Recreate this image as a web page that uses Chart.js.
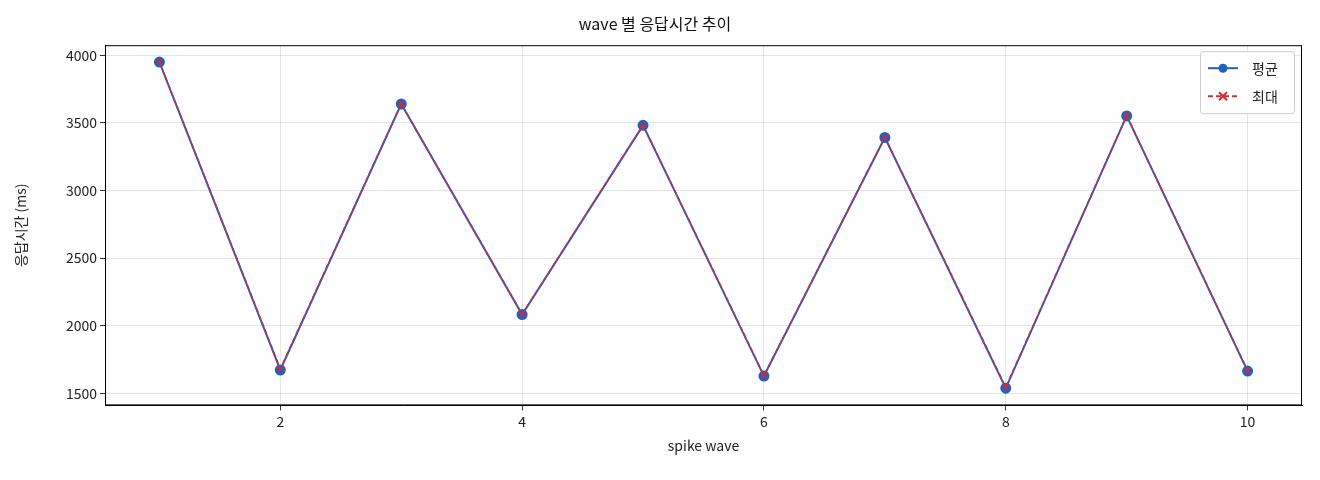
<!DOCTYPE html>
<html><head><meta charset="utf-8">
<script src="https://cdn.jsdelivr.net/npm/chart.js@4"></script>
<style>html,body{margin:0;background:#fff}#w{width:1320px;height:480px}</style>
</head><body><div id="w"><canvas id="c"></canvas></div>
<script>
const waves=[1,2,3,4,5,6,7,8,9,10];
const avgMs=[3950,1672,3640,2082,3482,1627,3392,1537,3552,1664];
const maxMs=[3952,1680,3642,2085,3484,1632,3394,1545,3554,1668];
const xTicks=[2,4,6,8,10];
const yTicks=[1500,2000,2500,3000,3500,4000];
const F='"Noto Sans CJK KR", "DejaVu Sans", sans-serif';
Chart.defaults.font.family=F;Chart.defaults.color='#222';
const legendPlugin={id:'lg',afterDraw(ch){const c=ch.ctx,a=ch.chartArea;
c.save();c.strokeStyle='#000';c.lineWidth=1;c.strokeRect(a.left+.5,a.top+.5,a.right-a.left-1,a.bottom-a.top-1);
const x=a.right-102,y=a.top+6,w=94,h=62;
c.fillStyle='rgba(255,255,255,0.9)';c.strokeStyle='#ccc';
c.beginPath();c.roundRect(x+.5,y+.5,w,h,3);c.fill();c.stroke();
const items=[['평균','#1f62c0',[],'o'],['최대','#d62a33',[5,3],'x']];
items.forEach((it,i)=>{const yy=y+17+i*28;c.strokeStyle=it[1];c.lineWidth=2;c.setLineDash(it[2]);
c.beginPath();c.moveTo(x+8,yy);c.lineTo(x+38,yy);c.stroke();c.setLineDash([]);
if(it[3]==='o'){c.fillStyle=it[1];c.beginPath();c.arc(x+23,yy,4.5,0,7);c.fill();}
else{c.beginPath();c.moveTo(x+19,yy-4);c.lineTo(x+27,yy+4);c.moveTo(x+27,yy-4);c.lineTo(x+19,yy+4);c.stroke();}
c.fillStyle='#222';c.font='14px '+F;c.textBaseline='middle';c.fillText(it[0],x+52,yy);});
c.restore();}};
new Chart(document.getElementById('c'),{type:'line',
data:{datasets:[
{label:'평균',order:2,data:waves.map((w,i)=>({x:w,y:avgMs[i]})),borderColor:'#1f62c0',backgroundColor:'#1f62c0',borderWidth:2,pointRadius:4.5,pointStyle:'circle',tension:0},
{label:'최대',order:1,data:waves.map((w,i)=>({x:w,y:maxMs[i]})),borderColor:'#d62a33',backgroundColor:'#d62a33',borderWidth:1.5,borderDash:[5,3],pointRadius:4,pointStyle:'crossRot',pointBorderWidth:1.5,tension:0}]},
options:{responsive:true,maintainAspectRatio:false,animation:false,
layout:{padding:{left:8,right:18,top:0,bottom:22}},
plugins:{legend:{display:false},tooltip:{enabled:false},
title:{display:true,text:'wave 별 응답시간 추이',font:{size:16,weight:'normal'},color:'#111',padding:{top:14,bottom:12}}},
scales:{
x:{type:'linear',min:0.55,max:10.45,afterBuildTicks:s=>{s.ticks=xTicks.map(v=>({value:v}))},
grid:{color:'rgba(0,0,0,0.1)',tickLength:5,tickColor:'#333'},border:{color:'#000'},
ticks:{font:{size:14},color:'#222',callback:v=>String(v)},title:{display:true,text:'spike wave',font:{size:14},color:'#222'}},
y:{min:1410,max:4075,afterBuildTicks:s=>{s.ticks=yTicks.map(v=>({value:v}))},afterFit:s=>{s.width=97},
grid:{color:'rgba(0,0,0,0.1)',tickLength:5,tickColor:'#333'},border:{color:'#000'},
ticks:{font:{size:14},color:'#222',callback:v=>String(v)},title:{display:true,text:'응답시간 (ms)',font:{size:14},color:'#222'}}}},
plugins:[legendPlugin]});
</script></body></html>
